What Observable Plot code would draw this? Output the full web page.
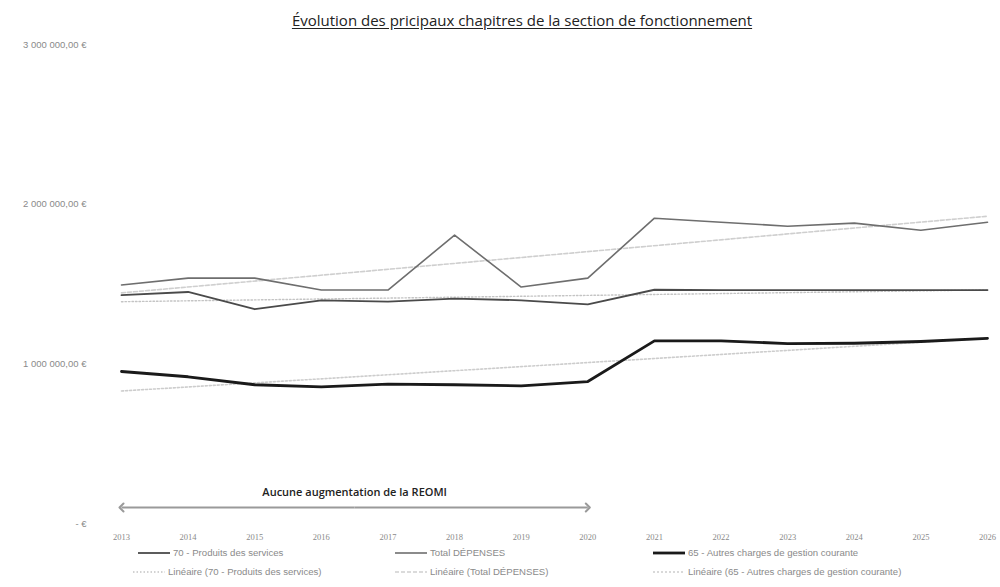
<!DOCTYPE html>
<html>
<head>
<meta charset="utf-8">
<script src="https://cdn.jsdelivr.net/npm/d3@7"></script>
<script src="https://cdn.jsdelivr.net/npm/@observablehq/plot@0.6"></script>
<style>
  html, body { margin: 0; padding: 0; background: #fff; }
  #wrap { position: relative; width: 1000px; height: 587px; overflow: hidden; font-family: "Open Sans", "Liberation Sans", sans-serif; }
  #title { position: absolute; top: 10px; left: 522px; transform: translateX(-50%); white-space: nowrap;
           font-size: 15px; color: #222; text-decoration: underline; text-underline-offset: 2px; }
  #chart { position: absolute; left: 0; top: 0; }
  .leg { position: absolute; display: flex; align-items: center; font-size: 9.6px; color: #8a8a8a; white-space: nowrap; font-family: "Liberation Sans", sans-serif; }
  .leg svg { margin-right: 3px; }
</style>
</head>
<body>
<div id="wrap">
  <div id="chart"></div>
  <div id="title">Évolution des pricipaux chapitres de la section de fonctionnement</div>
  <div id="legend"></div>
</div>
<script>
// ---- data ----
const years = [2013, 2014, 2015, 2016, 2017, 2018, 2019, 2020, 2021, 2022, 2023, 2024, 2025, 2026];
const produits70 = [1430000, 1450000, 1342000, 1398000, 1390000, 1408000, 1398000, 1373000, 1464000, 1462000, 1462000, 1462000, 1462000, 1462000];
const totalDepenses = [1494000, 1537000, 1537000, 1462000, 1462000, 1806000, 1481000, 1537000, 1912000, 1887000, 1862000, 1881000, 1837000, 1887000];
const autres65 = [952000, 919000, 869000, 856000, 873000, 869000, 862000, 889000, 1144000, 1144000, 1127000, 1129000, 1140000, 1160000];
const seriesNames = ["70 - Produits des services", "Total DÉPENSES", "65 - Autres charges de gestion courante"];
const trendNames = ["Linéaire (70 - Produits des services)", "Linéaire (Total DÉPENSES)", "Linéaire (65 - Autres charges de gestion courante)"];
const yTicks = [0, 1000000, 2000000, 3000000];
const reomiSpan = [2013, 2020];
const reomiLabel = "Aucune augmentation de la REOMI";
const reomiArrowValue = 100000;
const reomiLabelValue = 195000;

// ---- styles ----
const lineStyles = [
  {stroke: "#4a4a4a", strokeWidth: 1.8},
  {stroke: "#6e6e6e", strokeWidth: 1.6},
  {stroke: "#1a1a1a", strokeWidth: 2.8}
];
const trendStyles = [
  {stroke: "#c4c4c4", strokeWidth: 1.4, strokeDasharray: "1.5,2"},
  {stroke: "#cfcfcf", strokeWidth: 1.6, strokeDasharray: "4,2"},
  {stroke: "#cdcdcd", strokeWidth: 1.6, strokeDasharray: "2,2"}
];

const allValues = [produits70, totalDepenses, autres65];
const tables = allValues.map((vals, k) => years.map((yr, i) => ({series: seriesNames[k], year: yr, value: vals[i]})));

const fmt = v => v === 0 ? "- €" : d3.format(",.2f")(v).replace(/,/g, " ").replace(".", ",") + " €";

const marks = [];
tables.forEach((t, k) => {
  marks.push(Plot.linearRegressionY(t, {x: "year", y: "value", ci: 0, ...trendStyles[k]}));
});
tables.forEach((t, k) => {
  marks.push(Plot.line(t, {x: "year", y: "value", ...lineStyles[k], strokeLinejoin: "round"}));
});
// double-headed arrow: two halves from the middle outward
const mid = (reomiSpan[0] + reomiSpan[1]) / 2;
marks.push(Plot.link([
  {x1: mid, x2: reomiSpan[0], y: reomiArrowValue},
  {x1: mid, x2: reomiSpan[1], y: reomiArrowValue}
], {
  x1: "x1", x2: "x2", y1: "y", y2: "y", stroke: "#9a9a9a", strokeWidth: 2, markerEnd: "arrow"
}));
marks.push(Plot.text([{x: mid, y: reomiLabelValue, t: reomiLabel}], {
  x: "x", y: "y", text: "t", fontSize: 11, fill: "#222", fontWeight: 600, fontFamily: "Open Sans"
}));
marks.push(Plot.axisY({ticks: yTicks, tickFormat: fmt, tickSize: 0, tickPadding: 35, fontSize: 9.5, fill: "#8a8a8a", label: null, fontFamily: "Liberation Sans"}));
marks.push(Plot.axisX({ticks: years, tickFormat: d => String(d), tickSize: 0, tickPadding: 10, fontSize: 8.5, fill: "#8a8a8a", label: null, fontFamily: "Liberation Serif"}));

const chart = Plot.plot({
  width: 1000,
  height: 587,
  marginLeft: 121,
  marginRight: 13,
  marginTop: 44,
  marginBottom: 64,
  x: {domain: [2013, 2026]},
  y: {domain: [0, 3000000]},
  style: {background: "#fff", overflow: "visible"},
  marks
});
document.getElementById("chart").appendChild(chart);

// ---- legend (HTML) ----
const legendPos = [
  {left: 138, top: 547}, {left: 395, top: 547}, {left: 653, top: 547},
  {left: 133, top: 566}, {left: 395, top: 566}, {left: 653, top: 566}
];
const legendItems = [
  ...seriesNames.map((n, k) => ({name: n, style: lineStyles[k]})),
  ...trendNames.map((n, k) => ({name: n, style: trendStyles[k]}))
];
const leg = document.getElementById("legend");
legendItems.forEach((it, i) => {
  const d = document.createElement("div");
  d.className = "leg";
  d.style.left = legendPos[i].left + "px";
  d.style.top = legendPos[i].top + "px";
  const sw = 32;
  d.innerHTML = `<svg width="${sw}" height="10"><line x1="0" x2="${sw}" y1="5" y2="5" stroke="${it.style.stroke}" stroke-width="${it.style.strokeWidth}" ${it.style.strokeDasharray ? `stroke-dasharray="${it.style.strokeDasharray}"` : ""}/></svg><span>${it.name}</span>`;
  leg.appendChild(d);
});
</script>
</body>
</html>
